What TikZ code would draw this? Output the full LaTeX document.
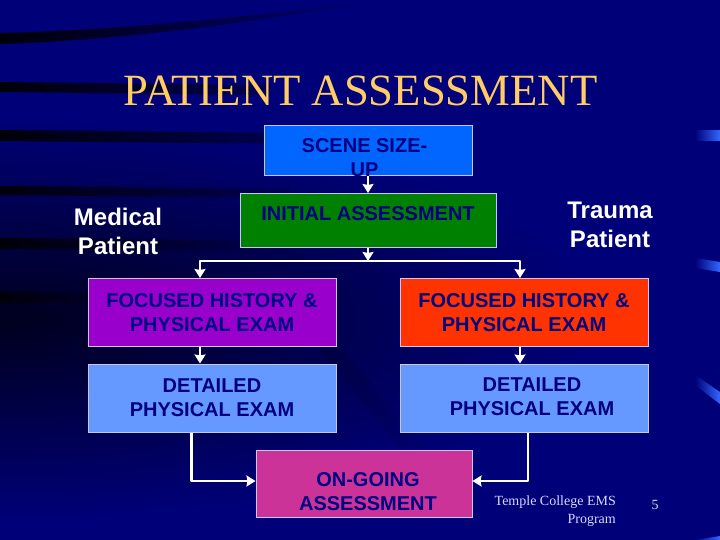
\documentclass[tikz,border=0pt]{standalone}
\usepackage{fontspec}
\setmainfont{Liberation Sans}
\newfontfamily\serifface{Liberation Serif}
\usepackage{xcolor}
\usetikzlibrary{arrows.meta}
\usetikzlibrary{positioning}
\definecolor{bgnavy}{HTML}{000078}
\definecolor{bgdark}{HTML}{00001E}
\definecolor{boxtext}{HTML}{000080}
\definecolor{boxline}{HTML}{C4C8FF}
\definecolor{titlegold}{HTML}{FFCC66}
\definecolor{footpale}{HTML}{D8D8FF}
\definecolor{glint}{HTML}{3366FF}
\definecolor{sceneblue}{HTML}{0066FF}
\definecolor{initgreen}{HTML}{008000}
\definecolor{medpurple}{HTML}{9900CC}
\definecolor{traumared}{HTML}{FF3300}
\definecolor{detailblue}{HTML}{6699FF}
\definecolor{goingpink}{HTML}{CC3399}
\tikzset{
  stepbox/.style={draw=boxline,line width=1pt,rectangle,inner sep=0pt,text=boxtext,align=center,
    font=\fontsize{20}{24}\selectfont\bfseries},
  boxlabel/.style={inner sep=0pt,text=boxtext,align=center,font=\fontsize{20}{24}\selectfont\bfseries},
  sidelabel/.style={inner sep=0pt,text=white,align=center,font=\fontsize{24}{29}\selectfont\bfseries},
  flow/.style={draw=white,line width=2.6pt,-{Stealth[length=9pt,width=11pt,inset=1pt]},line join=round}
}
\begin{document}
\begin{tikzpicture}[x=1pt,y=-1pt]
    \useasboundingbox (0,0) rectangle (720,540);
    \fill[bgnavy] (0,0) rectangle (720,540);
    % backdrop
    \begin{scope}
      \clip (0,0) rectangle (720,540);
      \shade[inner color=bgdark,outer color=bgnavy] (0,320) ellipse (600 and 200);
    \end{scope}
    \shade[left color=black!70!bgdark,right color=bgnavy]
      (0,33) .. controls (130,30) and (260,15) .. (380,0)
      .. controls (270,20) and (130,40) .. (0,44) -- cycle;
    \foreach \ya/\yb/\xe in {82/92/270,130/141/300,186/195/290,238/249/300,292/303/230}
      \shade[left color=black!70!bgdark,right color=bgnavy!60!bgdark]
        (0,\ya) -- (\xe,\ya+3) -- (\xe,\yb+3) -- (0,\yb) -- cycle;
    \shade[left color=bgdark,right color=bgnavy,opacity=.25]
      (340,345) -- (470,505) -- (450,510) -- (320,350) -- cycle;
    \foreach \ya/\yb/\yc/\yd in {131/141/131/141,258/268/262/272,375/385/392/404}
      \shade[left color=bgnavy,right color=glint]
        (695,\ya) -- (720,\yc) -- (720,\yd) -- (695,\yb) -- cycle;
    \shade[left color=bgnavy,right color=glint] (695,540) -- (720,536) -- (720,540) -- cycle;
    % title and footer
    \node[inner sep=0pt,text=titlegold,font=\fontsize{44.7}{50}\selectfont\serifface] (title) at (360.5,91) {PATIENT ASSESSMENT};
    \node[inner sep=0pt,text=footpale,align=right,font=\fontsize{14}{17.5}\selectfont\serifface,anchor=north east] (temple) at (616,496) {Temple College EMS\\Program};
    \node[inner sep=0pt,text=footpale,font=\fontsize{14}{17}\selectfont\serifface] (page) at (655,505) {5};
    % boxes
    \node[stepbox,fill=sceneblue,minimum width=208pt,minimum height=50pt,
      label={[boxlabel,xshift=-3.5pt,yshift=-7pt]center:SCENE SIZE-\\UP}] (scene) at (368,151) {};
    \node[stepbox,fill=initgreen,minimum width=256pt,minimum height=54pt,below=16.5pt of scene,
      label={[boxlabel,yshift=7pt]center:INITIAL ASSESSMENT}] (initial) {};
    \node[stepbox,fill=medpurple,minimum width=248pt,minimum height=68pt] (focusmed) at (212,312.5) {FOCUSED HISTORY \&\\PHYSICAL EXAM};
    \node[stepbox,fill=traumared,minimum width=248pt,minimum height=68pt] (focustrauma) at (524,312.5) {FOCUSED HISTORY \&\\PHYSICAL EXAM};
    \node[stepbox,fill=detailblue,minimum width=248pt,minimum height=68pt,below=16.5pt of focusmed] (detailmed) {DETAILED\\PHYSICAL EXAM};
    \node[stepbox,fill=detailblue,minimum width=248pt,minimum height=68pt,below=16.5pt of focustrauma,
      label={[boxlabel,xshift=8pt,yshift=1pt]center:DETAILED\\PHYSICAL EXAM}] (detailtrauma) {};
    \node[stepbox,fill=goingpink,minimum width=216pt,minimum height=67pt,
      label={[boxlabel,xshift=4pt,yshift=-8pt]center:ON-GOING\\ASSESSMENT}] (going) at (364,483.5) {};
    % side labels
    \node[sidelabel] (medical) at (118,231.5) {Medical\\Patient};
    \node[sidelabel] (trauma) at (610,225) {Trauma\\Patient};
    % connectors
    \coordinate (split) at (368,261);
    \draw[flow] (scene) -- (initial);
    \draw[flow] (initial) -- (split);
    \draw[flow] (split) -| ([xshift=-12pt]focusmed.north);
    \draw[flow] (split) -| ([xshift=-4pt]focustrauma.north);
    \draw[flow] ([xshift=-12pt]focusmed.south) -- ([xshift=-12pt]detailmed.north);
    \draw[flow] ([xshift=-4pt]focustrauma.south) -- ([xshift=-4pt]detailtrauma.north);
    \draw[flow] ([xshift=-20.5pt]detailmed.south) |- ([yshift=2.5pt]going.west);
    \draw[flow] ([xshift=4pt]detailtrauma.south) |- ([yshift=2.5pt]going.east);
\end{tikzpicture}
\end{document}
